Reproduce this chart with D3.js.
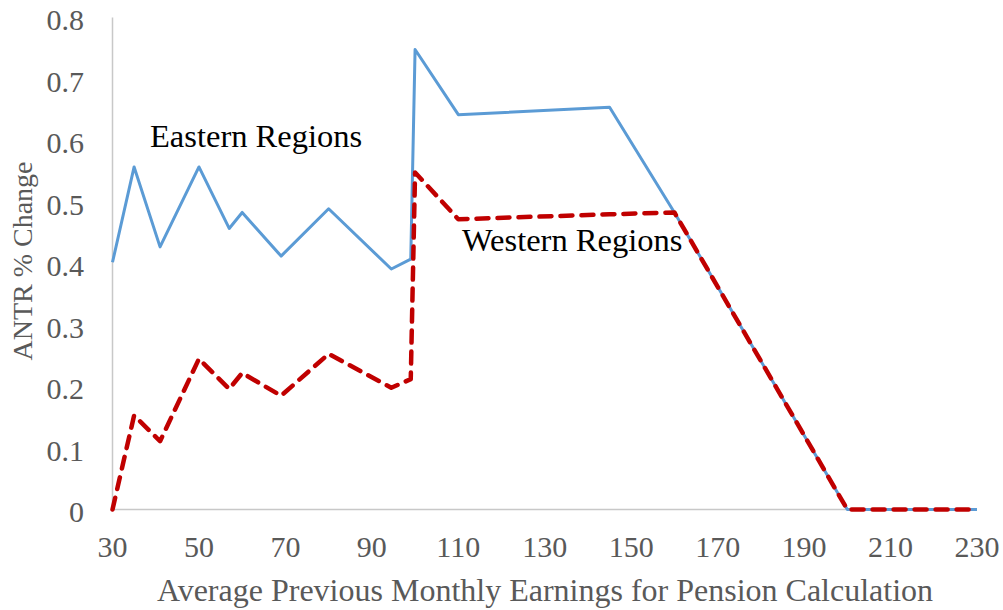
<!DOCTYPE html>
<html>
<head>
<meta charset="utf-8">
<script src="https://cdn.jsdelivr.net/npm/d3@7"></script>
<style>
  body { margin: 0; background: #fff; }
</style>
</head>
<body>
<svg id="chart" width="1003" height="610"></svg>
<script>
// values
var earnings = [30, 35, 41, 50, 57, 60, 69, 80, 94.5, 99, 100, 110, 145, 160, 200, 230];
var eastern  = [0.402, 0.557, 0.427, 0.557, 0.457, 0.483, 0.412, 0.489, 0.391, 0.407, 0.748, 0.642, 0.654, 0.483, 0, 0];
var western  = [0, 0.153, 0.111, 0.245, 0.196, 0.222, 0.185, 0.253, 0.198, 0.212, 0.548, 0.472, 0.480, 0.483, 0, 0];
var xTicks = [30, 50, 70, 90, 110, 130, 150, 170, 190, 210, 230];
var yTicks = [0, 0.1, 0.2, 0.3, 0.4, 0.5, 0.6, 0.7, 0.8];

var font = "'Liberation Serif', 'DejaVu Serif', serif";

var svg = d3.select("#chart")
  .style("font-family", font);

var x = d3.scaleLinear().domain([30, 230]).range([112.5, 977]);
var y = d3.scaleLinear().domain([0, 0.8]).range([509.5, 17.5]);

var axisColor = "#c8c8c8",
    tickColor = "#595959";

// axes lines
svg.append("line")
  .attr("x1", x(30)).attr("x2", x(30))
  .attr("y1", y(0.8)).attr("y2", y(0))
  .style("stroke", axisColor).style("stroke-width", 1.5);

svg.append("line")
  .attr("x1", x(30)).attr("x2", x(230))
  .attr("y1", y(0)).attr("y2", y(0))
  .style("stroke", axisColor).style("stroke-width", 1.5);

// tick labels
svg.selectAll("text.ytick")
  .data(yTicks)
  .enter().append("text")
  .attr("class", "ytick")
  .attr("x", 84)
  .attr("y", function (d) { return y(d) + 2; })
  .attr("dy", "0.35em")
  .attr("text-anchor", "end")
  .style("font-size", "30px")
  .style("fill", tickColor)
  .text(function (d) { return d === 0 ? "0" : d3.format(".1f")(d); });

svg.selectAll("text.xtick")
  .data(xTicks)
  .enter().append("text")
  .attr("class", "xtick")
  .attr("x", function (d) { return x(d); })
  .attr("y", 557)
  .attr("text-anchor", "middle")
  .style("font-size", "30px")
  .style("fill", tickColor)
  .text(function (d) { return d; });

// axis titles
svg.append("text")
  .attr("x", 545)
  .attr("y", 601)
  .attr("text-anchor", "middle")
  .style("font-size", "32px")
  .style("fill", tickColor)
  .text("Average Previous Monthly Earnings for Pension Calculation");

svg.append("text")
  .attr("transform", "translate(32," + 261 + ")rotate(-90)")
  .attr("text-anchor", "middle")
  .style("font-size", "28px")
  .style("fill", tickColor)
  .text("ANTR % Change");

// lines
var eastPts = earnings.map(function (e, i) { return [e, eastern[i]]; });
var westPts = earnings.map(function (e, i) { return [e, western[i]]; });

var line = d3.line()
  .x(function (d) { return x(d[0]); })
  .y(function (d) { return y(d[1]); });

svg.append("path")
  .datum(eastPts)
  .attr("d", line)
  .style("fill", "none")
  .style("stroke", "#5b9bd5")
  .style("stroke-width", 3)
  .style("stroke-linejoin", "round");

svg.append("path")
  .datum(westPts)
  .attr("d", line)
  .style("fill", "none")
  .style("stroke", "#c00000")
  .style("stroke-width", 4.5)
  .style("stroke-dasharray", "12,9")
  .style("stroke-linecap", "round")
  .style("stroke-linejoin", "round");

// series labels
svg.append("text")
  .attr("x", 150)
  .attr("y", 146.5)
  .style("font-size", "32.5px")
  .style("fill", "#000")
  .text("Eastern Regions");

svg.append("text")
  .attr("x", 462)
  .attr("y", 250.5)
  .style("font-size", "32.5px")
  .style("fill", "#000")
  .text("Western Regions");
</script>
</body>
</html>
